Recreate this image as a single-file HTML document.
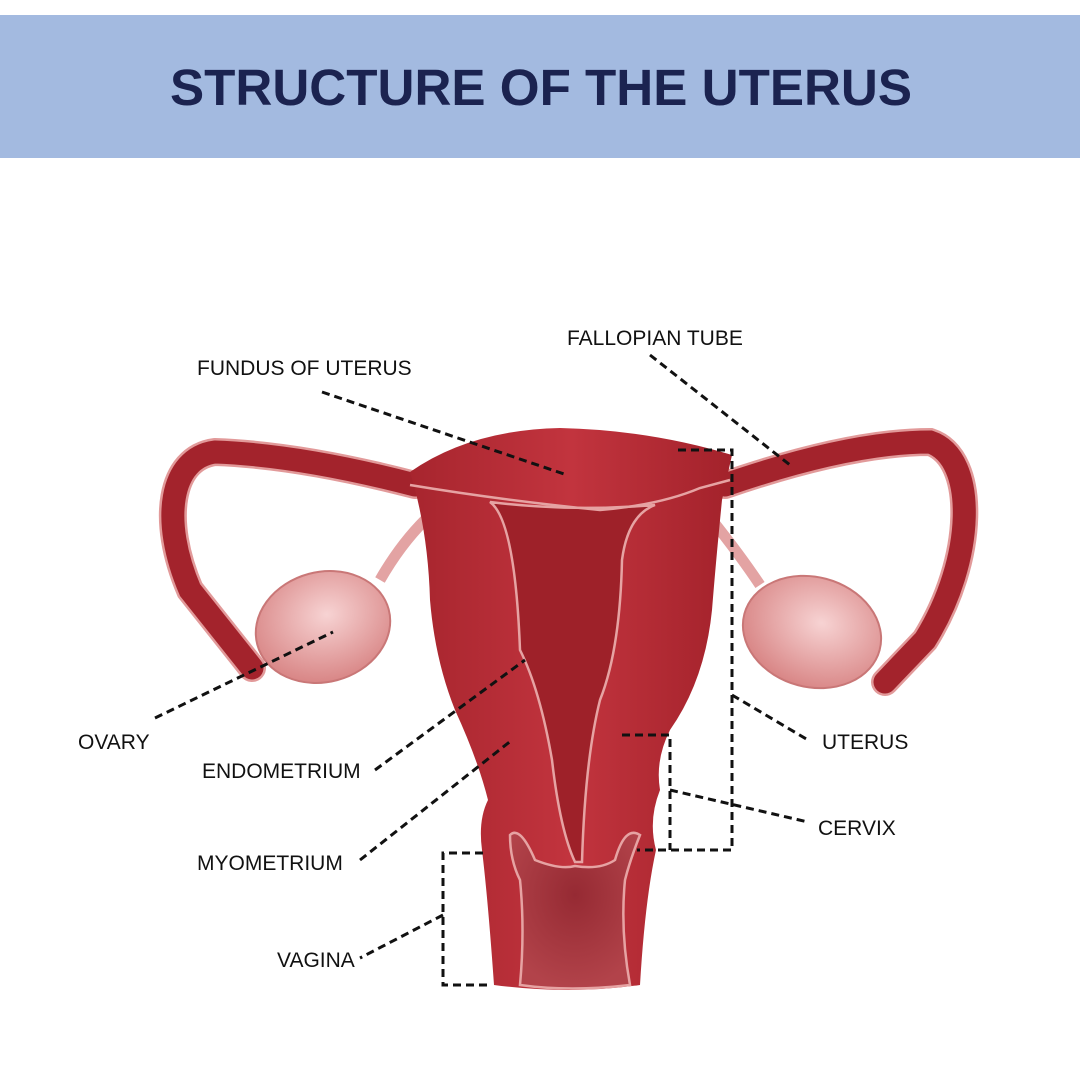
<!DOCTYPE html>
<html><head><meta charset="utf-8"><style>
html,body{margin:0;padding:0;background:#fff;}
svg{display:block;}
text{font-family:"Liberation Sans",sans-serif;}
</style></head><body>
<svg width="1080" height="1080" viewBox="0 0 1080 1080" xmlns="http://www.w3.org/2000/svg">
<defs>
<radialGradient id="ov" cx="0.55" cy="0.4" r="0.6"><stop offset="0" stop-color="#f7d3d3"/><stop offset="1" stop-color="#d98787"/></radialGradient>
<linearGradient id="body" x1="0" x2="1"><stop offset="0" stop-color="#a7252e"/><stop offset="0.5" stop-color="#c2343e"/><stop offset="1" stop-color="#a3222b"/></linearGradient>
<radialGradient id="vag" cx="0.5" cy="0.4" r="0.6"><stop offset="0" stop-color="#962a33"/><stop offset="1" stop-color="#b2434a"/></radialGradient>
</defs>
<rect width="1080" height="1080" fill="#fff"/>
<rect x="0" y="15" width="1080" height="143" fill="#a3bae0"/>
<text x="541" y="105" text-anchor="middle" font-size="51" font-weight="bold" fill="#1b2350" textLength="742" lengthAdjust="spacingAndGlyphs">STRUCTURE OF THE UTERUS</text>

<path d="M425,520 Q400,545 380,580" stroke="#e3a3a3" stroke-width="11" fill="none"/>
<path d="M712,520 Q740,555 760,585" stroke="#e3a3a3" stroke-width="11" fill="none"/>
<path d="M415,485 Q300,455 215,452 C170,458 160,520 190,590 L252,668" stroke="#e29a9a" stroke-width="28" fill="none" stroke-linecap="round"/>
<path d="M415,485 Q300,455 215,452 C170,458 160,520 190,590 L252,668" stroke="#a3232c" stroke-width="23" fill="none" stroke-linecap="round"/>
<path d="M725,485 Q850,442 930,442 C978,458 975,560 925,640 L885,682" stroke="#e29a9a" stroke-width="28" fill="none" stroke-linecap="round"/>
<path d="M725,485 Q850,442 930,442 C978,458 975,560 925,640 L885,682" stroke="#a3232c" stroke-width="23" fill="none" stroke-linecap="round"/>
<ellipse cx="323" cy="627" rx="68" ry="55" fill="url(#ov)" stroke="#c97777" stroke-width="2" transform="rotate(-15 323 627)"/>
<ellipse cx="812" cy="632" rx="70" ry="55" fill="url(#ov)" stroke="#c97777" stroke-width="2" transform="rotate(15 812 632)"/>
<path d="M410,472 Q470,430 560,428 Q650,430 732,455 L722,500 Q716,560 712,610 Q705,680 670,730 Q655,760 660,790 Q648,820 656,850 Q645,900 640,985 Q570,995 494,985 Q488,900 482,850 Q478,820 488,800 Q478,760 455,710 Q435,660 430,600 Q428,530 410,472 Z" fill="url(#body)"/>
<path d="M490,502 Q515,520 520,650 Q540,690 552,760 Q560,830 575,862 L582,862 Q585,760 600,700 Q620,650 622,560 Q628,515 655,505 Q570,512 490,502 Z" fill="#9e2129" stroke="#e6a3a3" stroke-width="2.5"/>
<path d="M410,485 Q500,500 600,510 Q660,505 700,488 L730,480" stroke="#e6a3a3" stroke-width="2.5" fill="none"/>
<path d="M510,835 Q520,825 535,860 Q560,870 575,866 Q600,870 615,860 Q625,825 640,835 Q630,860 625,880 Q620,930 630,985 Q570,992 520,985 Q525,930 520,880 Q510,860 510,835 Z" fill="url(#vag)" stroke="#e6a3a3" stroke-width="2.5"/>

<g stroke="#111" stroke-width="3" stroke-dasharray="8,5" fill="none">
<path d="M322,392 L567,475"/>
<path d="M650,355 L790,465"/>
<path d="M155,718 L333,632"/>
<path d="M375,770 L525,660"/>
<path d="M360,860 L512,740"/>
<path d="M678,450 L732,450 L732,850 L637,850"/>
<path d="M732,695 L808,740"/>
<path d="M622,735 L670,735 L670,850"/>
<path d="M670,790 L808,822"/>
<path d="M483,853 L443,853 L443,985 L492,985"/>
<path d="M443,915 L360,958"/>
</g>
<g font-size="21" fill="#111">
<text x="567" y="345">FALLOPIAN TUBE</text>
<text x="197" y="375">FUNDUS OF UTERUS</text>
<text x="78" y="749">OVARY</text>
<text x="202" y="778">ENDOMETRIUM</text>
<text x="197" y="870">MYOMETRIUM</text>
<text x="277" y="967">VAGINA</text>
<text x="822" y="749">UTERUS</text>
<text x="818" y="835">CERVIX</text>
</g>
</svg>
</body></html>
